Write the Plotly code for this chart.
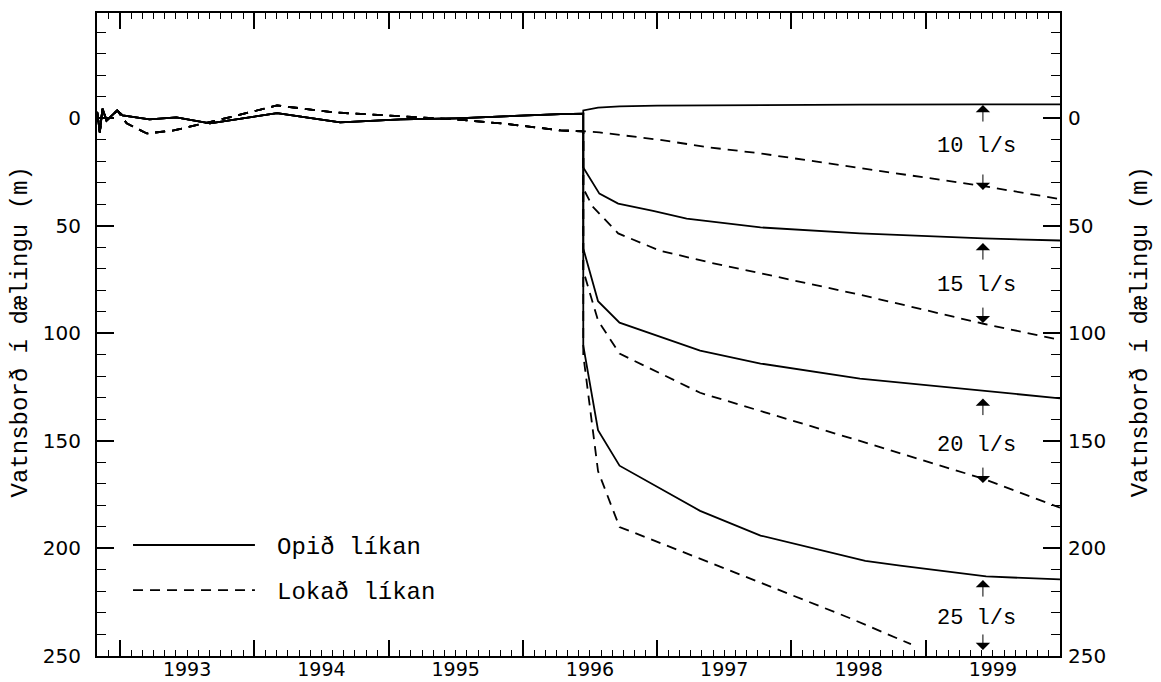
import plotly.graph_objects as go

# ---------------- data (decimal years, water level in m) -------------
open_hist_year = [1992.83, 1992.85, 1992.87, 1992.90, 1992.98, 1993.02, 1993.22, 1993.42,
                  1993.67, 1994.17, 1994.64, 1995.09, 1995.50, 1995.87, 1996.13, 1996.28, 1996.45]
open_hist_val = [-3.0, 6.5, -4.6, 1.0, -3.7, -1.4, 0.5, -0.5,
                 2.3, -2.4, 1.9, 0.5, 0.0, -1.0, -1.8, -2.0, -2.2]

closed_hist_year = [1992.83, 1992.85, 1992.87, 1992.90, 1992.98, 1993.05, 1993.20, 1993.40,
                    1993.75, 1994.17, 1994.59, 1995.09, 1995.50, 1995.87, 1996.13, 1996.28, 1996.45]
closed_hist_val = [-3.0, 6.5, -4.6, 1.0, -3.7, 2.3, 7.0, 5.6,
                   0.5, -6.0, -2.8, -0.9, 0.5, 2.5, 4.5, 5.6, 6.0]

rates = ["10", "15", "20", "25"]

open_year = {
    "10": [1996.45, 1996.56, 1996.72, 1997.00, 1997.77, 1998.51, 1999.43, 2000.00],
    "15": [1996.45, 1996.57, 1996.71, 1996.97, 1997.22, 1997.77, 1998.51, 1999.43, 2000.00],
    "20": [1996.45, 1996.56, 1996.72, 1997.32, 1997.77, 1998.51, 1999.43, 2000.00],
    "25": [1996.45, 1996.56, 1996.72, 1997.32, 1997.77, 1998.55, 1998.81, 1999.45, 2000.00],
}
open_val = {
    "10": [-3.7, -5.0, -5.6, -5.9, -6.2, -6.4, -6.5, -6.5],
    "15": [22.8, 35.0, 39.6, 43.0, 46.6, 50.7, 53.5, 55.8, 56.8],
    "20": [60.5, 85.0, 95.0, 108.0, 114.0, 121.0, 126.6, 130.2],
    "25": [105.7, 145.0, 161.5, 182.5, 194.0, 205.8, 208.0, 213.0, 214.4],
}
closed_year = {
    "10": [1996.45, 1996.57, 1997.02, 1997.39, 1997.77, 1998.51, 1999.43, 2000.00],
    "15": [1996.45, 1996.52, 1996.71, 1997.02, 1997.39, 1997.77, 1998.51, 1999.43, 2000.00],
    "20": [1996.45, 1996.56, 1996.72, 1997.32, 1997.77, 1998.51, 1999.43, 2000.00],
    "25": [1996.45, 1996.56, 1996.72, 1997.37, 1997.96, 1998.44, 1998.89],
}
closed_val = {
    "10": [6.0, 6.5, 10.0, 13.5, 16.3, 23.0, 31.5, 37.5],
    "15": [32.6, 41.0, 53.5, 61.5, 67.0, 72.0, 82.0, 95.5, 103.0],
    "20": [70.8, 94.0, 109.4, 127.6, 136.0, 150.0, 167.6, 181.0],
    "25": [110.0, 164.0, 190.0, 206.0, 220.5, 232.5, 244.5],
}

year_labels = ["1993", "1994", "1995", "1996", "1997", "1998", "1999"]
y_ticks = [0, 50, 100, 150, 200, 250]

# annotation positions
rate_label_x = 1999.377
rate_label_y = {"10": 13.3, "15": 77.9, "20": 151.9, "25": 232.4}
arrow_x = 1999.426
arrow_up_tip = {"10": -6.2, "15": 58.0, "20": 130.3, "25": 214.7}
arrow_down_tip = {"10": 33.3, "15": 95.2, "20": 169.6, "25": 247.2}

# ---------------- figure ----------------
MONO = "Liberation Mono"
SANS = "DejaVu Sans"
fig = go.Figure()

for r in rates:
    fig.add_trace(go.Scatter(
        x=open_hist_year + open_year[r], y=open_hist_val + open_val[r],
        mode="lines", line=dict(color="black", width=1.8), showlegend=False,
        hoverinfo="skip"))
    fig.add_trace(go.Scatter(
        x=closed_hist_year + closed_year[r], y=closed_hist_val + closed_val[r],
        mode="lines", line=dict(color="black", width=1.8, dash="10px,7px"),
        showlegend=False, hoverinfo="skip"))

# dummy trace so the overlay axes are drawn
fig.add_trace(go.Scatter(x=[None], y=[None], xaxis="x2", yaxis="y2",
                         showlegend=False, hoverinfo="skip"))

xr = [1992.829, 2000.0]
yr = [250, -49]

fig.update_layout(
    width=1161, height=682,
    margin=dict(l=97, r=101, t=13, b=26, autoexpand=False),
    paper_bgcolor="white", plot_bgcolor="white",
    showlegend=False,
    xaxis=dict(range=xr, tickmode="linear", tick0=1993, dtick=1,
               ticks="inside", ticklen=16, tickwidth=1.5, tickcolor="black",
               showticklabels=False, showline=True, linewidth=2, linecolor="black",
               mirror="allticks", showgrid=False, zeroline=False,
               minor=dict(tickmode="linear", tick0=1993, dtick=1 / 12, ticks="inside",
                          ticklen=6, tickwidth=1.2, tickcolor="black", showgrid=False)),
    xaxis2=dict(range=xr, overlaying="x", anchor="y", side="bottom",
                tickmode="array", tickvals=[int(y) + 0.5 for y in year_labels],
                ticktext=year_labels, ticks="", showline=False, showgrid=False,
                zeroline=False, ticklabelstandoff=0,
                tickfont=dict(family=SANS, size=19, color="black")),
    yaxis=dict(range=yr, tickmode="array", tickvals=y_ticks,
               ticktext=[str(v) for v in y_ticks],
               ticks="inside", ticklen=17, tickwidth=1.5, tickcolor="black",
               showline=True, linewidth=2, linecolor="black", mirror="allticks",
               showgrid=False, zeroline=False, ticklabelstandoff=10,
               tickfont=dict(family=SANS, size=20, color="black"),
               minor=dict(tickmode="linear", tick0=0, dtick=10, ticks="inside",
                          ticklen=9, tickwidth=1.2, tickcolor="black", showgrid=False)),
    yaxis2=dict(range=yr, overlaying="y", anchor="x", side="right",
                tickmode="array", tickvals=y_ticks, ticktext=[str(v) for v in y_ticks],
                ticks="", showline=False, showgrid=False, zeroline=False,
                ticklabelstandoff=7,
                tickfont=dict(family=SANS, size=20, color="black")),
)

annotations = []
# axis titles (left and right)
for xpos in (-0.079, 1.084):
    annotations.append(dict(text="Vatnsborð í dælingu (m)", xref="paper", yref="paper",
                            x=xpos, y=0.5047, showarrow=False, textangle=-90,
                            xanchor="center", yanchor="middle",
                            font=dict(family=MONO, size=24, color="black")))
# rate labels and arrows
for r in rates:
    annotations.append(dict(text=f"{r} l/s", x=rate_label_x, y=rate_label_y[r],
                            xref="x", yref="y", showarrow=False,
                            font=dict(family=MONO, size=22, color="black")))
    annotations.append(dict(text="", x=arrow_x, y=arrow_up_tip[r], xref="x", yref="y",
                            ax=0, ay=18, showarrow=True, arrowhead=1, arrowsize=2.4,
                            arrowwidth=1, arrowcolor="black"))
    annotations.append(dict(text="", x=arrow_x, y=arrow_down_tip[r], xref="x", yref="y",
                            ax=0, ay=-17, showarrow=True, arrowhead=1, arrowsize=2.4,
                            arrowwidth=1, arrowcolor="black"))
# legend text
annotations.append(dict(text="Opið líkan", xref="paper", yref="paper", x=0.1848, y=0.168,
                        xanchor="left", yanchor="middle", showarrow=False,
                        font=dict(family=MONO, size=24, color="black")))
annotations.append(dict(text="Lokað líkan", xref="paper", yref="paper", x=0.1848, y=0.098,
                        xanchor="left", yanchor="middle", showarrow=False,
                        font=dict(family=MONO, size=24, color="black")))
fig.update_layout(annotations=annotations)

# legend line samples
fig.add_shape(type="line", xref="paper", yref="paper", x0=0.0374, x1=0.164,
              y0=0.1726, y1=0.1726, line=dict(color="black", width=1.8))
fig.add_shape(type="line", xref="paper", yref="paper", x0=0.0374, x1=0.164,
              y0=0.1026, y1=0.1026, line=dict(color="black", width=1.8, dash="10px,7px"))

fig.write_html("out.html", config={"displayModeBar": False},
               post_script="document.body.style.margin='0px';")
